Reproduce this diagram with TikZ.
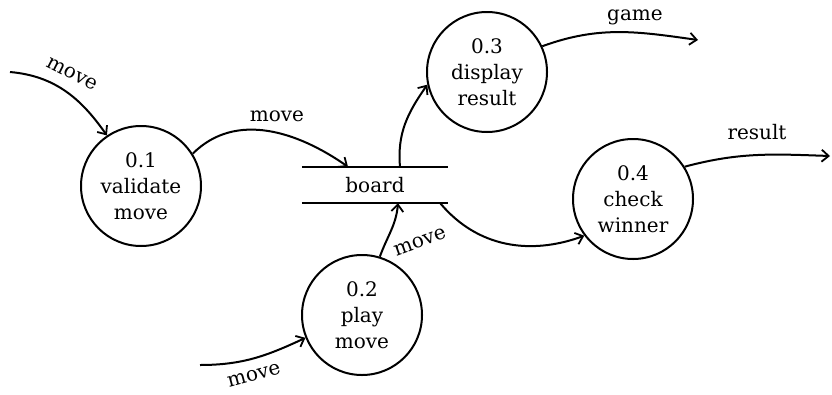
\documentclass[tikz,border=0pt]{standalone}
\usepackage{fontspec}
\setmainfont{DejaVu Serif}
\usetikzlibrary{arrows.meta}
\tikzset{
  proc/.style={circle,draw,line width=2pt,minimum size=120pt,inner sep=0pt,align=center,
    font=\fontsize{20}{26}\selectfont},
  flow/.style={line width=2pt,-{Straight Barb[length=7pt,width=12pt,line width=1.8pt]}},
  lbl/.style={font=\fontsize{20}{22}\selectfont,inner sep=0pt},
}
\begin{document}
\begin{tikzpicture}[x=1pt,y=-1pt]
\useasboundingbox (0,0) rectangle (832,394);
\node[proc] (c1) at (141,186) {0.1\\validate\\move};
\node[proc] (c3) at (487,72) {0.3\\display\\result};
\node[proc] (c4) at (633,199) {0.4\\check\\winner};
\node[proc] (c2) at (362,315) {0.2\\play\\move};
\node[minimum width=146pt,minimum height=36pt,inner sep=0pt,font=\fontsize{20}{22}\selectfont] (board) at (375,185) {board};
\draw[line width=2pt] (board.north west) -- (board.north east);
\draw[line width=2pt] (board.south west) -- (board.south east);
\coordinate (in1) at (10,72);
\coordinate (in2) at (200,365);
\coordinate (game) at (698,40);
\coordinate (res) at (830,156);
% flows
\draw[flow] (in1) to[out=-5,in=125] (c1.124);
\node[lbl,rotate=-27] at (72,74) {move};
\draw[flow] (c1.32) to[out=45,in=145] ([xshift=-27pt]board.north);
\node[lbl] at (277,116) {move};
\draw[flow] ([xshift=25pt]board.north) to[out=95,in=235] (c3.192);
\draw[flow] (c3.25) to[out=20,in=172] (game);
\node[lbl] at (635,17) {game};
\draw[flow] ([xshift=-8pt]board.south east) to[out=-50,in=200] (c4.217);
\draw[flow] (c4.32) to[out=15,in=178] (res);
\node[lbl] at (757,132) {result};
\draw[flow] (c2.73) to[out=70,in=-95] ([xshift=23pt]board.south);
\node[lbl,rotate=20] at (420,242) {move};
\draw[flow] (in2) to[out=0,in=205] (c2.202);
\node[lbl,rotate=15] at (254,375) {move};
\end{tikzpicture}
\end{document}
